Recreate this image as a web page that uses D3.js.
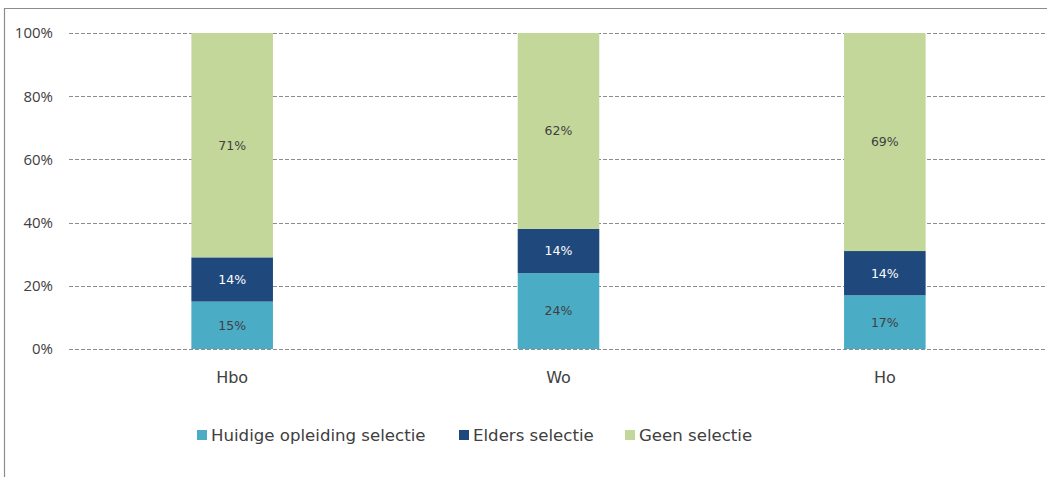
<!DOCTYPE html>
<html>
<head>
<meta charset="utf-8">
<script src="https://cdn.jsdelivr.net/npm/d3@7"></script>
<style>
  body { margin: 0; background: #fff; }
  svg { display: block; }
  .y-axis .tick text { font-family: "Open Sans", "Liberation Sans", sans-serif; font-size: 15px; fill: #404040; }
  .x-axis .tick text { font-family: "DejaVu Sans", sans-serif; font-size: 16px; fill: #404040; }
  .label { font-family: "DejaVu Sans", sans-serif; font-size: 12.5px; text-anchor: middle; }
  .legend text { font-family: "DejaVu Sans", sans-serif; font-size: 16.6px; fill: #404040; }
</style>
</head>
<body>
<div id="wrapper"></div>
<script>
const categories = ["Hbo", "Wo", "Ho"]
const seriesNames = ["Huidige opleiding selectie", "Elders selectie", "Geen selectie"]
const huidige = [15, 24, 17]
const elders = [14, 14, 14]
const geen = [71, 62, 69]
const yTicks = [0, 20, 40, 60, 80, 100]

const colors = ["#4bacc6", "#1f497d", "#c4d79b"]
const labelColors = ["#404040", "#ffffff", "#404040"]

function drawChart() {
  const dimensions = {
    width: 1047,
    height: 477,
    margin: { top: 33, right: 0, bottom: 128, left: 69 },
  }
  dimensions.boundedWidth = dimensions.width - dimensions.margin.left - dimensions.margin.right + 1
  dimensions.boundedHeight = dimensions.height - dimensions.margin.top - dimensions.margin.bottom

  const table = categories.map((c, i) => ({
    category: c,
    s0: huidige[i],
    s1: elders[i],
    s2: geen[i],
  }))
  const stack = d3.stack().keys(["s0", "s1", "s2"])(table)

  const wrapper = d3.select("#wrapper")
    .append("svg")
      .attr("width", dimensions.width)
      .attr("height", dimensions.height)

  // outer frame (only top and left visible)
  wrapper.append("path")
      .attr("d", `M4.5,${dimensions.height} V8.5 H${dimensions.width}`)
      .attr("fill", "none")
      .attr("stroke", "#8c8c8c")
      .attr("stroke-width", 1.2)

  const bounds = wrapper.append("g")
      .attr("transform", `translate(${dimensions.margin.left},${dimensions.margin.top})`)

  const xScale = d3.scaleBand()
    .domain(categories)
    .range([0, dimensions.boundedWidth])
    .paddingInner(0.75)
    .paddingOuter(0.375)

  const yScale = d3.scaleLinear()
    .domain([0, 100])
    .range([dimensions.boundedHeight, 0])

  // gridlines
  bounds.append("g")
    .selectAll("line")
    .data(yTicks)
    .join("line")
      .attr("x1", 0)
      .attr("x2", dimensions.boundedWidth)
      .attr("y1", d => Math.round(yScale(d)) + 0.5)
      .attr("y2", d => Math.round(yScale(d)) + 0.5)
      .attr("stroke", "#8c8c8c")
      .attr("stroke-width", 1)
      .attr("stroke-dasharray", "4,2")

  // bars
  const layers = bounds.append("g")
    .selectAll("g")
    .data(stack)
    .join("g")
      .attr("fill", (d, i) => colors[i])

  layers.selectAll("rect")
    .data(d => d)
    .join("rect")
      .attr("x", d => xScale(d.data.category))
      .attr("y", d => yScale(d[1]))
      .attr("width", xScale.bandwidth())
      .attr("height", d => yScale(d[0]) - yScale(d[1]))

  // data labels
  stack.forEach((layer, i) => {
    bounds.append("g")
      .selectAll("text")
      .data(layer)
      .join("text")
        .attr("class", "label")
        .attr("x", d => xScale(d.data.category) + xScale.bandwidth() / 2)
        .attr("y", d => (yScale(d[0]) + yScale(d[1])) / 2)
        .attr("dy", "0.35em")
        .attr("fill", labelColors[i])
        .text(d => `${d[1] - d[0]}%`)
  })

  // y axis
  const yAxis = bounds.append("g")
      .attr("class", "y-axis")
    .call(d3.axisLeft(yScale).tickValues(yTicks).tickFormat(d => `${d}%`).tickSize(0).tickPadding(16))
  yAxis.select(".domain").remove()

  // x axis
  const xAxis = bounds.append("g")
      .attr("class", "x-axis")
      .attr("transform", `translate(0,${dimensions.boundedHeight})`)
    .call(d3.axisBottom(xScale).tickSize(0).tickPadding(23))
  xAxis.select(".domain").remove()

  // legend
  const legendX = [197, 459, 625]
  const legend = wrapper.append("g").attr("class", "legend")
  const items = legend.selectAll("g")
    .data(seriesNames)
    .join("g")
      .attr("transform", (d, i) => `translate(${legendX[i]},435)`)
  items.append("rect")
      .attr("x", 0)
      .attr("y", -5)
      .attr("width", 10)
      .attr("height", 10)
      .attr("fill", (d, i) => colors[i])
  items.append("text")
      .attr("x", 14)
      .attr("dy", "0.38em")
      .text(d => d)
}
drawChart()
</script>
</body>
</html>
